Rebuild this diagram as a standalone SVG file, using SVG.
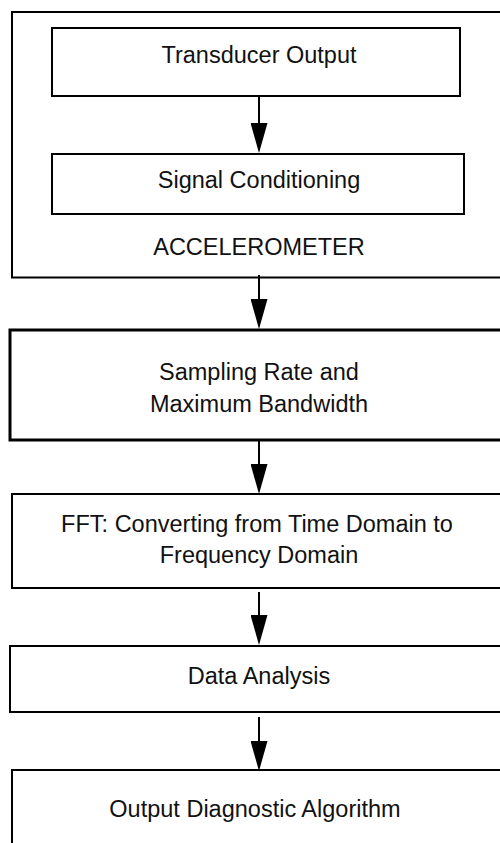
<svg xmlns="http://www.w3.org/2000/svg" width="500" height="843" viewBox="0 0 500 843">
<style>
.box{fill:none;stroke:#000;stroke-width:2}
.thick{stroke-width:3}
.lbl{font-family:"Liberation Sans",Arial,sans-serif;font-size:23.5px;fill:#111;text-anchor:middle}
.conn{stroke:#000;stroke-width:2;fill:none;marker-end:url(#ah)}
</style>
<defs>
<marker id="ah" viewBox="0 0 30 17" refX="20" refY="8.5" markerWidth="30" markerHeight="17" markerUnits="userSpaceOnUse" orient="auto">
<path d="M0,0 L30,8.5 L0,17 z" fill="#000"/>
</marker>
</defs>
<rect width="500" height="843" fill="#fff"/>
<g id="accelerometer">
<rect class="box" x="12" y="12" width="520" height="265.5"/>
<text class="lbl" x="259" y="255">ACCELEROMETER</text>
</g>
<g id="transducer">
<rect class="box" x="52" y="28" width="408" height="68"/>
<text class="lbl" x="259" y="63">Transducer Output</text>
</g>
<g id="signal">
<rect class="box" x="52" y="154" width="412" height="60"/>
<text class="lbl" x="259" y="188">Signal Conditioning</text>
</g>
<g id="sampling">
<rect class="box thick" x="10" y="330" width="520" height="110"/>
<text class="lbl" x="259" y="380">Sampling Rate and</text>
<text class="lbl" x="259" y="412">Maximum Bandwidth</text>
</g>
<g id="fft">
<rect class="box" x="12" y="494" width="520" height="94"/>
<text class="lbl" x="257" y="532">FFT: Converting from Time Domain to</text>
<text class="lbl" x="259" y="563">Frequency Domain</text>
</g>
<g id="analysis">
<rect class="box" x="10" y="646" width="520" height="66"/>
<text class="lbl" x="259" y="684">Data Analysis</text>
</g>
<g id="output">
<rect class="box" x="12" y="770" width="520" height="100"/>
<text class="lbl" x="255" y="817">Output Diagnostic Algorithm</text>
</g>
<g id="connectors">
<line class="conn" x1="259" y1="96" x2="259" y2="143"/>
<line class="conn" x1="259" y1="275" x2="259" y2="319"/>
<line class="conn" x1="259" y1="441" x2="259" y2="484"/>
<line class="conn" x1="259" y1="592" x2="259" y2="635"/>
<line class="conn" x1="259" y1="717" x2="259" y2="761"/>
</g>
</svg>
